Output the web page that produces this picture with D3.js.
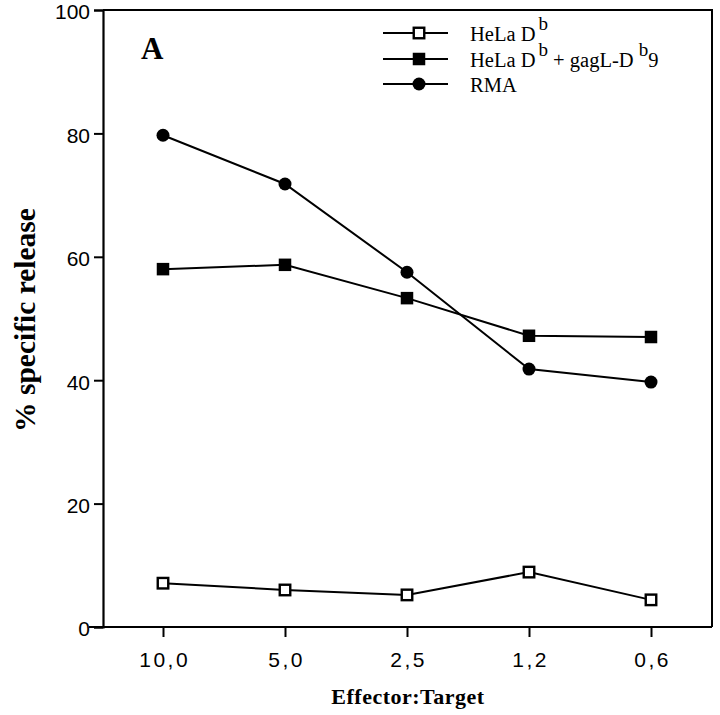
<!DOCTYPE html>
<html><head><meta charset="utf-8">
<script src="https://cdn.jsdelivr.net/npm/d3@7"></script>
<style>body{margin:0;background:#fff}</style>
</head><body>
<script>
const categories = ["10,0", "5,0", "2,5", "1,2", "0,6"];
const yTicks = [0, 20, 40, 60, 80, 100];
const helaDb = [7.1, 6.0, 5.2, 8.9, 4.4];
const helaDbGag = [58.0, 58.7, 53.3, 47.2, 47.0];
const rma = [79.7, 71.8, 57.5, 41.8, 39.7];

const W = 720, H = 715;
const svg = d3.select("body").append("svg").attr("width", W).attr("height", H);
const L = 103, R = 712, T = 10, B = 627;
const x = d3.scalePoint().domain(categories).range([163, 651]);
const y = d3.scaleLinear().domain([0, 100]).range([B, T]);

// frame
svg.append("path").attr("d", `M${L},${T}H${R}V${B}`).attr("fill","none").attr("stroke","#000").attr("stroke-width",2);

const yAxis = svg.append("g").attr("transform", `translate(${L},0)`)
  .call(d3.axisLeft(y).tickValues(yTicks).tickSize(9).tickPadding(4));
const xAxis = svg.append("g").attr("transform", `translate(0,${B})`)
  .call(d3.axisBottom(x).tickSize(10).tickPadding(15));
[yAxis, xAxis].forEach(g => {
  g.select(".domain").attr("stroke-width", 2.2);
  g.selectAll(".tick line").attr("stroke-width", 2);
  g.selectAll("text").attr("font-family", "Liberation Sans, Arial, sans-serif").attr("font-size", 21).attr("fill","#000");
});
yAxis.selectAll("text").attr("dy", "0.42em");
xAxis.select(".domain").attr("d", `M${L-14},0H${R}`);
xAxis.selectAll("text").attr("letter-spacing", "2.5px").attr("dx", "1.2px");

const line = d3.line().x((d,i)=>x(categories[i])).y(d=>y(d));
const series = [
  {name:"HeLa Db", vals: helaDb, marker:"sqOpen"},
  {name:"HeLa Db gag", vals: helaDbGag, marker:"sqFill"},
  {name:"RMA", vals: rma, marker:"circle"}
];
function drawMarker(g, type, cx, cy) {
  if (type === "circle") {
    g.append("circle").attr("cx",cx).attr("cy",cy).attr("r",6.5).attr("fill","#000");
  } else {
    const s = type === "sqOpen" ? 10.5 : 12.5;
    g.append("rect").attr("x",cx-s/2).attr("y",cy-s/2).attr("width",s).attr("height",s)
      .attr("fill", type==="sqOpen" ? "#fff" : "#000").attr("stroke","#000").attr("stroke-width", type==="sqOpen"?2.4:0);
  }
}
series.forEach(s => {
  svg.append("path").attr("d", line(s.vals)).attr("fill","none").attr("stroke","#000").attr("stroke-width",2);
  const g = svg.append("g");
  s.vals.forEach((v,i)=>drawMarker(g, s.marker, x(categories[i]), y(v)));
});

// legend
const legRows = [33, 59, 84];
const lg = svg.append("g");
series.forEach((s,i) => {
  lg.append("line").attr("x1",383).attr("x2",448).attr("y1",legRows[i]).attr("y2",legRows[i]).attr("stroke","#000").attr("stroke-width",2);
  drawMarker(lg, s.marker, 419, legRows[i]);
});
const tf = "Liberation Serif, Times New Roman, serif";
function legText(yy) { return lg.append("text").attr("x",470).attr("y",yy).attr("font-family",tf).attr("font-size",20.5).attr("fill","#000"); }
let t1 = legText(legRows[0]+8);
t1.append("tspan").text("HeLa D");
t1.append("tspan").attr("dx",3).attr("dy",-11).attr("font-size",19).text("b");
let t2 = legText(legRows[1]+8);
t2.append("tspan").text("HeLa D");
t2.append("tspan").attr("dx",3).attr("dy",-11).attr("font-size",19).text("b");
t2.append("tspan").attr("dy",11).text(" + gagL-D ");
t2.append("tspan").attr("dy",-11).attr("font-size",19).text("b");
t2.append("tspan").attr("dy",11).text("9");
legText(legRows[2]+8).text("RMA");

svg.append("text").attr("x",141).attr("y",59).attr("font-family",tf).attr("font-weight","bold").attr("font-size",31).text("A");

svg.append("text").attr("transform","translate(35,320) rotate(-90)").attr("text-anchor","middle")
  .attr("font-family",tf).attr("font-weight","bold").attr("font-size",29.5).text("% specific release");
svg.append("text").attr("x",408).attr("y",704).attr("text-anchor","middle")
  .attr("font-family",tf).attr("font-weight","bold").attr("font-size",22).attr("letter-spacing","0.5px").text("Effector:Target");
</script>
</body></html>
